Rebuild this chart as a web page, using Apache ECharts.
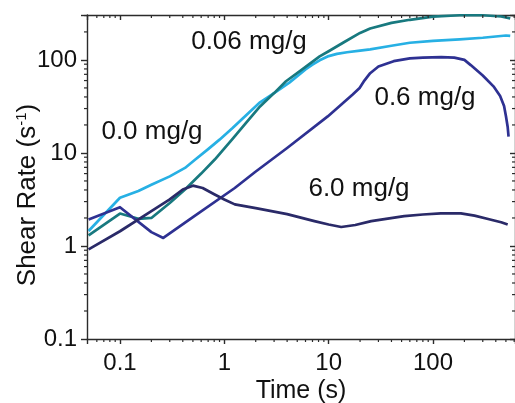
<!DOCTYPE html>
<html><head><meta charset="utf-8">
<script src="https://cdn.jsdelivr.net/npm/echarts@6/dist/echarts.min.js"></script>
<style>html,body{margin:0;padding:0;background:#fff}#c{width:515px;height:403px}</style>
</head><body><div id="c"></div>
<script>
// ---- data ----
const time00 = [0.05, 0.1, 0.15, 0.2, 0.3, 0.42, 0.52, 0.7, 0.9, 1.2, 1.5, 2.2, 3, 4.2, 6, 7, 8.2, 10, 12, 15, 20, 25, 40, 60, 100, 180, 300, 500, 550];
const rate00 = [1.45, 3.3, 3.9, 4.55, 5.6, 6.9, 8.4, 11, 13.9, 18.5, 23.5, 35, 44, 57, 79, 89, 99, 110, 116, 121, 126, 130, 142, 153, 160, 166, 173, 183, 181];

const time006 = [0.05, 0.1, 0.15, 0.2, 0.3, 0.42, 0.6, 0.81, 1.2, 1.6, 2.2, 3, 3.9, 5.5, 8.2, 10, 14, 20, 25, 40, 60, 100, 180, 300, 450, 550];
const rate006 = [1.3, 2.23, 1.96, 2.0, 2.9, 4.05, 6.0, 8.5, 14.2, 20.8, 31.6, 44, 59, 78, 109, 124, 155, 195, 218, 250, 270, 292, 302, 302, 293, 280];

const time06 = [0.05, 0.1, 0.2, 0.26, 0.5, 1.26, 1.96, 4, 9.8, 14, 17, 19.8, 22, 25, 30, 42, 60, 80, 120, 160, 200, 230, 300, 380, 440, 480, 500, 520, 530];
const rate06 = [1.93, 2.61, 1.41, 1.22, 2.04, 4.2, 6.2, 11.3, 24.7, 35, 42.5, 50, 60, 72, 85, 97, 104, 106, 107, 106, 100, 88, 68, 52, 41, 32, 25, 19, 15];

const time60 = [0.05, 0.1, 0.2, 0.3, 0.4, 0.5, 0.62, 0.8, 1.0, 1.26, 2, 4, 7.3, 10, 13.2, 18, 25.6, 53, 80, 119, 185, 250, 330, 450, 520];
const rate60 = [0.92, 1.44, 2.37, 3.17, 4.05, 4.45, 4.2, 3.6, 3.16, 2.8, 2.55, 2.2, 1.85, 1.7, 1.6, 1.68, 1.85, 2.09, 2.18, 2.24, 2.24, 2.12, 1.96, 1.8, 1.7];

const seriesNames = ['0.0 mg/g', '0.06 mg/g', '0.6 mg/g', '6.0 mg/g'];

const xMajorTicks = [0.1, 1, 10, 100];
const xTickLabels = ['0.1', '1', '10', '100'];
const yMajorTicks = [0.1, 1, 10, 100];
const yTickLabels = ['0.1', '1', '10', '100'];
const xMinorTicks = [0.06, 0.07, 0.08, 0.09, 0.2, 0.3, 0.4, 0.5, 0.6, 0.7, 0.8, 0.9, 2, 3, 4, 5, 6, 7, 8, 9, 20, 30, 40, 50, 60, 70, 80, 90, 200, 300, 400, 500, 600];
const yMinorTicks = [0.2, 0.3, 0.4, 0.5, 0.6, 0.7, 0.8, 0.9, 2, 3, 4, 5, 6, 7, 8, 9, 20, 30, 40, 50, 60, 70, 80, 90, 200, 300];

const X_MIN = 0.0483, X_MAX = 611;
const Y_MIN = 0.1, Y_MAX = 304;

// ---- helpers ----
function zip(a, b) { return a.map((v, i) => [v, b[i]]); }
function labelFor(ticks, labels) {
  return function (v) {
    for (let i = 0; i < ticks.length; i++) {
      if (Math.abs(Math.log10(v) - Math.log10(ticks[i])) < 1e-6) return labels[i];
    }
    return '';
  };
}
const FONT = 'Liberation Sans, Arial, sans-serif';
const AX = '#2b2b2b';
const colors = ['#27b0e4', '#18797f', '#2e3192', '#2a2a68'];

function lineSeries(name, t, r, color) {
  return {
    name: name, type: 'line', data: zip(t, r), showSymbol: false, symbol: 'none',
    lineStyle: { color: color, width: 2.7, join: 'round' }, itemStyle: { color: color },
    smooth: false, clip: true, animation: false, z: 3
  };
}

const chart = echarts.init(document.getElementById('c'), null, { renderer: 'canvas' });

const option = {
  animation: false,
  backgroundColor: '#fff',
  grid: { left: 87, right: 0, top: 15, bottom: 64, containLabel: false, outerBoundsMode: 'none' },
  xAxis: [{
    type: 'log', logBase: 10, min: X_MIN, max: X_MAX, position: 'bottom',
    name: 'Time (s)', nameLocation: 'middle', nameGap: 40, nameMoveOverlap: false,
    nameTextStyle: { fontFamily: FONT, fontSize: 25, color: '#111' },
    axisLine: { show: true, lineStyle: { color: AX, width: 1.4 } },
    axisTick: { show: true, inside: false, length: 5, lineStyle: { color: AX, width: 1.4 } },
    axisLabel: { formatter: labelFor(xMajorTicks, xTickLabels), fontFamily: FONT, fontSize: 24, color: '#111', margin: 12 },
    splitLine: { show: false }, minorTick: { show: false }
  }, {
    type: 'log', logBase: 10, min: X_MIN, max: X_MAX, position: 'top',
    axisLine: { show: true, lineStyle: { color: AX, width: 1.4 } },
    axisTick: { show: true, inside: true, length: 5, lineStyle: { color: AX, width: 1.4 } },
    axisLabel: { show: false }, splitLine: { show: false }
  }],
  yAxis: [{
    type: 'log', logBase: 10, min: Y_MIN, max: Y_MAX, position: 'left',
    name: '{n|Shear Rate (s}{s|-1}{n|)}', nameLocation: 'middle', nameGap: 46, nameMoveOverlap: false,
    nameTextStyle: {
      fontFamily: FONT, fontSize: 26, color: '#111', padding: [0, 36, 0, 0],
      rich: {
        n: { fontFamily: FONT, fontSize: 26, color: '#111' },
        s: { fontFamily: FONT, fontSize: 15, color: '#111', verticalAlign: 'top', padding: [0, 0, 12, 0] }
      }
    },
    axisLine: { show: true, lineStyle: { color: AX, width: 1.4 } },
    axisTick: { show: true, inside: false, length: 6, lineStyle: { color: AX, width: 1.4 } },
    axisLabel: { formatter: labelFor(yMajorTicks, yTickLabels), fontFamily: FONT, fontSize: 24, color: '#111', margin: 10 },
    splitLine: { show: false }, minorTick: { show: false }
  }, {
    type: 'log', logBase: 10, min: Y_MIN, max: Y_MAX, position: 'right',
    axisLine: { show: true, lineStyle: { color: AX, width: 1.4 } },
    axisTick: { show: true, inside: true, length: 5, lineStyle: { color: AX, width: 1.4 } },
    axisLabel: { show: false }, splitLine: { show: false }
  }],
  series: [
    lineSeries(seriesNames[0], time00, rate00, colors[0]),
    lineSeries(seriesNames[1], time006, rate006, colors[1]),
    lineSeries(seriesNames[2], time06, rate06, colors[2]),
    lineSeries(seriesNames[3], time60, rate60, colors[3]),
    {
      type: 'custom', name: 'xminor', silent: true, clip: false, z: 5,
      data: xMinorTicks.map(v => [v, Y_MIN]), encode: { x: 0, y: 1 },
      renderItem: function (params, api) {
        const v = api.value(0);
        const b = api.coord([v, Y_MIN]);
        const t = api.coord([v, Y_MAX]);
        const st = { stroke: AX, lineWidth: 1.2 };
        return { type: 'group', children: [
          { type: 'line', shape: { x1: b[0], y1: b[1], x2: b[0], y2: b[1] + 3 }, style: st },
          { type: 'line', shape: { x1: t[0], y1: t[1], x2: t[0], y2: t[1] + 3 }, style: st }
        ] };
      }
    },
    {
      type: 'custom', name: 'yminor', silent: true, clip: false, z: 5,
      data: yMinorTicks.map(v => [X_MIN, v]), encode: { x: 0, y: 1 },
      renderItem: function (params, api) {
        const v = api.value(1);
        const l = api.coord([X_MIN, v]);
        const r = api.coord([X_MAX, v]);
        const st = { stroke: AX, lineWidth: 1.2 };
        return { type: 'group', children: [
          { type: 'line', shape: { x1: l[0], y1: l[1], x2: l[0] - 3, y2: l[1] }, style: st },
          { type: 'line', shape: { x1: r[0], y1: r[1], x2: r[0] - 3, y2: r[1] }, style: st }
        ] };
      }
    }
  ],
  graphic: [
    { type: 'text', x: 249, y: 42, style: { text: seriesNames[1], font: '26px ' + FONT, fill: '#111', align: 'center', verticalAlign: 'middle' } },
    { type: 'text', x: 152, y: 132, style: { text: seriesNames[0], font: '26px ' + FONT, fill: '#111', align: 'center', verticalAlign: 'middle' } },
    { type: 'text', x: 425, y: 98, style: { text: seriesNames[2], font: '26px ' + FONT, fill: '#111', align: 'center', verticalAlign: 'middle' } },
    { type: 'text', x: 359, y: 189, style: { text: seriesNames[3], font: '26px ' + FONT, fill: '#111', align: 'center', verticalAlign: 'middle' } }
  ]
};
chart.setOption(option);
</script>
</body></html>
